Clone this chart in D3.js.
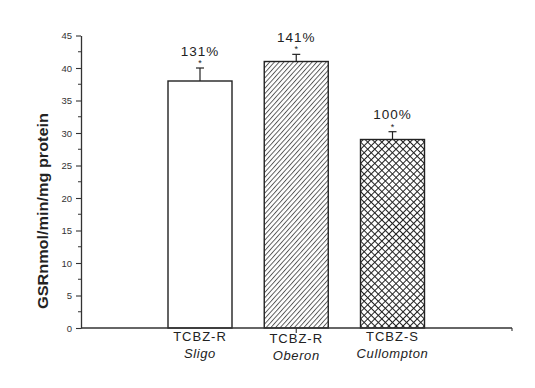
<!DOCTYPE html>
<html>
<head>
<meta charset="utf-8">
<script src="https://cdn.jsdelivr.net/npm/d3@7"></script>
<style>
  body { margin: 0; background: #fff; }
  svg { display: block; font-family: "Liberation Sans", Arial, sans-serif; }
</style>
</head>
<body>
<div id="chart"></div>
<script>
// Data
const strains = ["TCBZ-R", "TCBZ-R", "TCBZ-S"];
const isolates = ["Sligo", "Oberon", "Cullompton"];
const values = [38, 41, 29];
const errors = [2.0, 1.1, 1.2];
const percents = ["131%", "141%", "100%"];
const yTicks = [0, 5, 10, 15, 20, 25, 30, 35, 40, 45];

const width = 535, height = 388;
const axisLeft = 81, axisRight = 512, y0 = 328, yTop = 35.5;

const svg = d3.select("#chart").append("svg")
  .attr("width", width)
  .attr("height", height);

// patterns
const defs = svg.append("defs");
const hs = 3.5;
const hatch = defs.append("pattern")
  .attr("id", "hatch")
  .attr("patternUnits", "userSpaceOnUse")
  .attr("width", hs).attr("height", hs)
  .attr("patternTransform", "rotate(42)");
hatch.append("rect").attr("width", hs).attr("height", hs).attr("fill", "#fff");
hatch.append("line")
  .attr("x1", 0.5).attr("y1", 0).attr("x2", 0.5).attr("y2", hs)
  .attr("stroke", "#444").attr("stroke-width", 0.85);

const cs = 5;
const cross = defs.append("pattern")
  .attr("id", "cross")
  .attr("patternUnits", "userSpaceOnUse")
  .attr("width", cs).attr("height", cs)
  .attr("patternTransform", "rotate(45)");
cross.append("rect").attr("width", cs).attr("height", cs).attr("fill", "#fff");
cross.append("line")
  .attr("x1", 0.5).attr("y1", 0).attr("x2", 0.5).attr("y2", cs)
  .attr("stroke", "#222").attr("stroke-width", 1);
cross.append("line")
  .attr("x1", 0).attr("y1", 0.5).attr("x2", cs).attr("y2", 0.5)
  .attr("stroke", "#222").attr("stroke-width", 1);

const fills = ["#fff", "url(#hatch)", "url(#cross)"];

// scales
const x = d3.scalePoint()
  .domain(d3.range(values.length))
  .range([200, 392.5]);

const y = d3.scaleLinear()
  .domain([0, 45])
  .range([y0, yTop]);

const barW = 64;

// y axis
const yAxis = svg.append("g")
  .attr("transform", `translate(${axisLeft},0)`)
  .call(d3.axisLeft(y).tickValues(yTicks).tickSize(5).tickSizeOuter(0).tickPadding(4));
yAxis.select(".domain").attr("stroke", "#333").attr("stroke-width", 1.3);
yAxis.selectAll(".tick line").attr("stroke", "#333").attr("stroke-width", 1.1);
yAxis.selectAll(".tick text")
  .attr("font-size", 9.5)
  .attr("fill", "#333");

// minor ticks
svg.append("g")
  .selectAll("line")
  .data(d3.range(2.5, 45, 5))
  .join("line")
  .attr("x1", axisLeft - 3).attr("x2", axisLeft)
  .attr("y1", d => y(d)).attr("y2", d => y(d))
  .attr("stroke", "#333").attr("stroke-width", 1);

// bars
const bars = svg.append("g");
values.forEach((v, i) => {
  const cx = x(i);
  const top = y(v + errors[i]);
  // error bar
  bars.append("line")
    .attr("x1", cx).attr("x2", cx)
    .attr("y1", y(v)).attr("y2", top)
    .attr("stroke", "#222").attr("stroke-width", 1.2);
  bars.append("line")
    .attr("x1", cx - 4).attr("x2", cx + 4)
    .attr("y1", top).attr("y2", top)
    .attr("stroke", "#222").attr("stroke-width", 1.2);
  bars.append("rect")
    .attr("x", cx - barW / 2)
    .attr("y", y(v))
    .attr("width", barW)
    .attr("height", y(0) - y(v))
    .attr("fill", fills[i])
    .attr("stroke", "#222")
    .attr("stroke-width", 1.4);
  // asterisk
  bars.append("text")
    .attr("x", cx).attr("y", top - 2)
    .attr("text-anchor", "middle")
    .attr("font-size", 9)
    .attr("fill", "#222")
    .text("*");
  // percent label
  bars.append("text")
    .attr("x", cx).attr("y", top - 12.5)
    .attr("text-anchor", "middle")
    .attr("font-size", 13.5)
    .attr("letter-spacing", 1)
    .attr("fill", "#222")
    .text(percents[i]);
});

// x axis line
svg.append("line")
  .attr("x1", axisLeft).attr("x2", axisRight)
  .attr("y1", y0).attr("y2", y0)
  .attr("stroke", "#333").attr("stroke-width", 1.3);
svg.append("line")
  .attr("x1", axisRight).attr("x2", axisRight)
  .attr("y1", y0).attr("y2", y0 + 3)
  .attr("stroke", "#333").attr("stroke-width", 1.1);
svg.append("line")
  .attr("x1", x(1)).attr("x2", x(1))
  .attr("y1", y0).attr("y2", y0 + 5)
  .attr("stroke", "#333").attr("stroke-width", 1.1);

// category labels
const cats = svg.append("g");
strains.forEach((s, i) => {
  cats.append("text")
    .attr("x", x(i)).attr("y", 341 + (i === 1 ? 2 : 0))
    .attr("text-anchor", "middle")
    .attr("font-size", 13)
    .attr("letter-spacing", 1)
    .attr("fill", "#222")
    .text(s);
  cats.append("text")
    .attr("x", x(i)).attr("y", 358 + (i === 1 ? 2 : 0))
    .attr("text-anchor", "middle")
    .attr("font-size", 13)
    .attr("font-style", "italic")
    .attr("letter-spacing", 0.6)
    .attr("fill", "#222")
    .text(isolates[i]);
});

// y axis title
svg.append("text")
  .attr("transform", "translate(48,211) rotate(-90)")
  .attr("text-anchor", "middle")
  .attr("font-size", 14)
  .attr("font-weight", "bold")
  .attr("textLength", 196)
  .attr("lengthAdjust", "spacingAndGlyphs")
  .attr("fill", "#222")
  .text("GSRnmol/min/mg protein");
</script>
</body>
</html>
